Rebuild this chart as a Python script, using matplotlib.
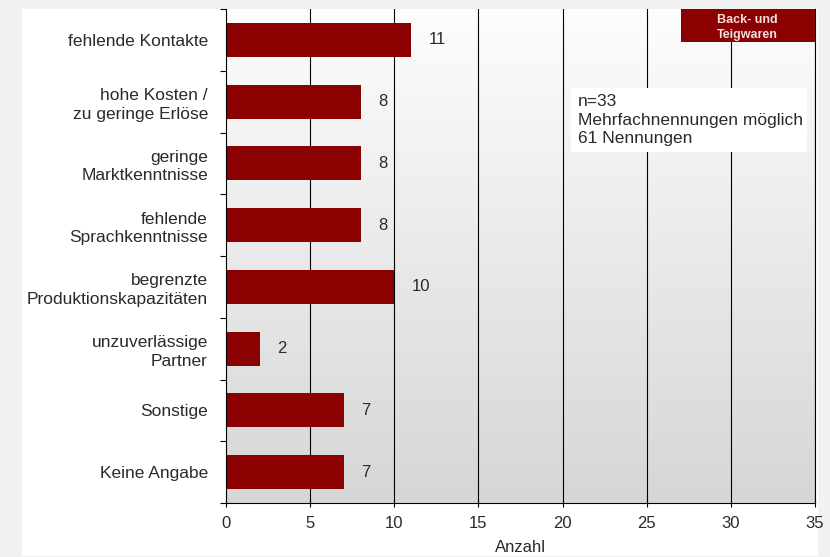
import numpy as np
import matplotlib
matplotlib.use('Agg')
import matplotlib.pyplot as plt
from matplotlib.patches import Rectangle

categories = ['fehlende Kontakte', 'hohe Kosten /\nzu geringe Erlöse', 'geringe\nMarktkenntnisse',
              'fehlende\nSprachkenntnisse', 'begrenzte\nProduktionskapazitäten', 'unzuverlässige\nPartner',
              'Sonstige', 'Keine Angabe']
values = [11, 8, 8, 8, 10, 2, 7, 7]
xticks = [0, 5, 10, 15, 20, 25, 30, 35]
info_lines = ['n=33', 'Mehrfachnennungen möglich', '61 Nennungen']
tag_text = 'Back- und\nTeigwaren'

plt.rcParams['font.family'] = ['Liberation Sans', 'DejaVu Sans']
bar_color = '#8b0000'
txt_color = '#2a2a2a'

fig = plt.figure(figsize=(8.3, 5.57), dpi=100, facecolor='#f1f1f1')
# white panel behind everything
fig.patches.append(Rectangle((22 / 830, 1 / 557), 796 / 830, 547 / 557, transform=fig.transFigure,
                             facecolor='white', edgecolor='none', zorder=-10))

ax = fig.add_axes([226 / 830, 1 - 503 / 557, 589 / 830, 494 / 557])
ax.set_facecolor('none')

y = np.arange(len(categories))
ax.set_xlim(0, 35)
ax.set_ylim(len(categories) - 0.5, -0.5)

# vertical gradient background (white top -> gray bottom)
grad = np.linspace(0, 1, 256).reshape(-1, 1)
ax.imshow(grad, extent=[0, 35, len(categories) - 0.5, -0.5], aspect='auto',
          cmap=matplotlib.colors.LinearSegmentedColormap.from_list('g', ['#fdfdfd', '#d6d6d6']),
          zorder=0, interpolation='bilinear')

for xv in xticks[1:]:
    ax.axvline(xv, color='black', lw=0.8, zorder=1)

ax.barh(y, values, height=0.55, color=bar_color, zorder=2)
for yi, v in zip(y, values):
    ax.text(v + 1.05, yi, str(v), va='center', ha='left', fontsize=12, color=txt_color)

# category labels via minor ticks, boundary marks via major ticks
ax.set_yticks(np.arange(-0.5, len(categories), 1.0))
ax.set_yticklabels([])
ax.set_yticks(y, minor=True)
ax.set_yticklabels(categories, minor=True, fontsize=12.5, color=txt_color)
ax.tick_params(axis='y', which='major', length=4, width=0.8, direction='out')
ax.tick_params(axis='y', which='minor', length=0, pad=13)
for lbl in ax.get_yticklabels(minor=True):
    lbl.set_multialignment('right')
    lbl.set_linespacing(1.3)

ax.set_xticks(xticks)
ax.tick_params(axis='x', length=6, width=0.8, direction='inout', labelsize=12, labelcolor=txt_color, pad=6)
ax.set_xlabel('Anzahl', fontsize=12, labelpad=7, color=txt_color)

ax.spines['top'].set_visible(False)
ax.spines['right'].set_linewidth(0.8)
ax.spines['left'].set_linewidth(0.8)
ax.spines['bottom'].set_linewidth(0.8)

# info box
ax.add_patch(Rectangle((20.5, 0.78), 14.0, 1.04, facecolor='white', edgecolor='none', zorder=3))
ax.text(20.9, 1.3, '\n'.join(info_lines), va='center', ha='left', fontsize=12.5,
        color=txt_color, linespacing=1.3, zorder=4)

# tag box top right
ax.add_patch(Rectangle((27.05, -0.5), 7.95, 0.54, facecolor=bar_color, edgecolor='none', zorder=3))
ax.text(31.0, -0.2, tag_text, va='center', ha='center', fontsize=9, fontweight='bold',
        color='#f4dede', linespacing=1.35, zorder=4)

fig.savefig('out.png', dpi=100, facecolor=fig.get_facecolor())
